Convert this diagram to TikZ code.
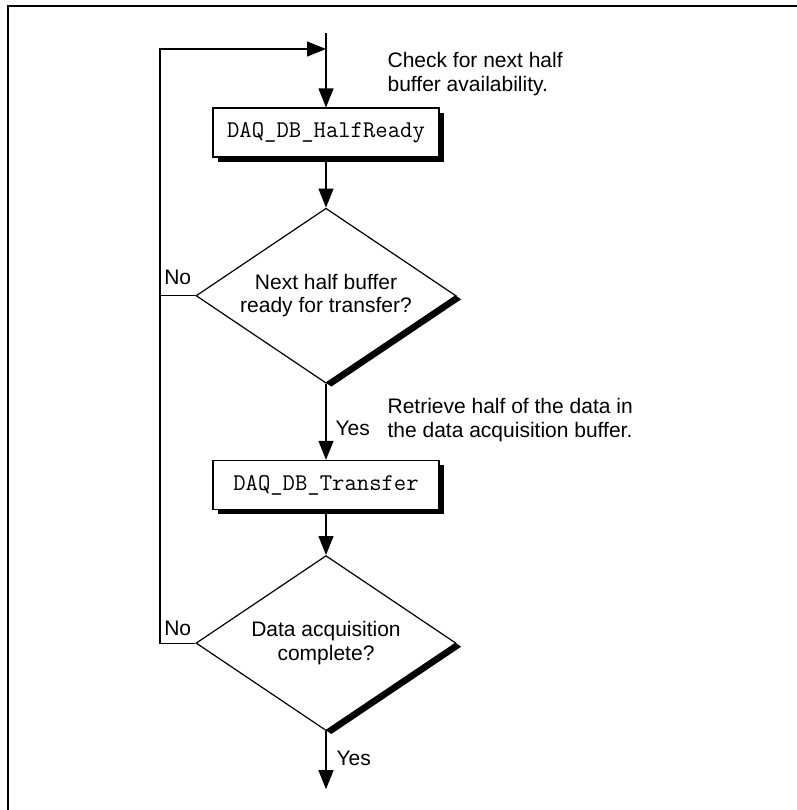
\documentclass[tikz,border=0pt]{standalone}
\usepackage{fontspec}
\setmainfont{Liberation Sans}
\usetikzlibrary{arrows.meta,shapes.geometric,shadows,positioning}

\begin{document}
\begin{tikzpicture}[>={Triangle[length=9.5pt,width=7.5pt]},line width=0.6pt,
        font=\fontsize{10.5}{11.8}\selectfont,
        fnbox/.style={draw,fill=white,minimum width=113pt,minimum height=24.5pt,inner sep=0pt,
            font=\ttfamily\fontsize{12}{14}\selectfont,
            drop shadow={shadow xshift=2.3pt,shadow yshift=-2.3pt,fill=black,opacity=1}},
        decision/.style={diamond,draw,fill=white,aspect=1.49,minimum width=130pt,minimum height=87.5pt,
            inner sep=0pt,align=center,
            drop shadow={shadow xshift=2.7pt,shadow yshift=-1.8pt,fill=black,opacity=1}},
        note/.style={anchor=north west,inner sep=0pt,align=left},
        answer/.style={inner sep=0pt}]
        \useasboundingbox (0,0) rectangle (398.5pt,-405pt);
        \draw[line width=1.2pt] (398.5pt,-3pt) -- (4pt,-3pt) -- (4pt,-405pt);

        \coordinate (top) at (163pt,-16.5pt);
        \coordinate (entry) at (163pt,-24.5pt);
        \coordinate (loop) at (80pt,-24.5pt);
        \node[fnbox] (halfready) at (163pt,-66.25pt) {DAQ\_DB\_HalfReady};
        \node[decision,below=25pt of halfready] (ready) {Next half buffer\\ready for transfer?};
        \node[fnbox,below=38pt of ready] (transfer) {DAQ\_DB\_Transfer};
        \node[decision,below=22.5pt of transfer] (complete) {Data acquisition\\complete?};
        \coordinate[below=29pt of complete] (done);

        \node[note] (checknote) at (193.5pt,-25.8pt) {Check for next half\\buffer availability.};
        \node[note] (retrievenote) at (193.5pt,-198.9pt) {Retrieve half of the data in\\the data acquisition buffer.};

        \draw[->] (top) -- (halfready);
        \draw[->] (halfready) -- (ready);
        \draw[->] (ready) -- node[answer,right=4.5pt,pos=0.59] {Yes} (transfer);
        \draw[->] (transfer) -- (complete);
        \draw[->] (complete) -- node[answer,right=5pt,pos=0.46] {Yes} (done);
        \draw[->] (complete.west) -| node[answer,above=3.5pt,pos=0.25] {No} (loop) -- (entry);
        \draw (ready.west) -- node[answer,above=5pt] {No} (ready.west -| loop);
\end{tikzpicture}
\end{document}
